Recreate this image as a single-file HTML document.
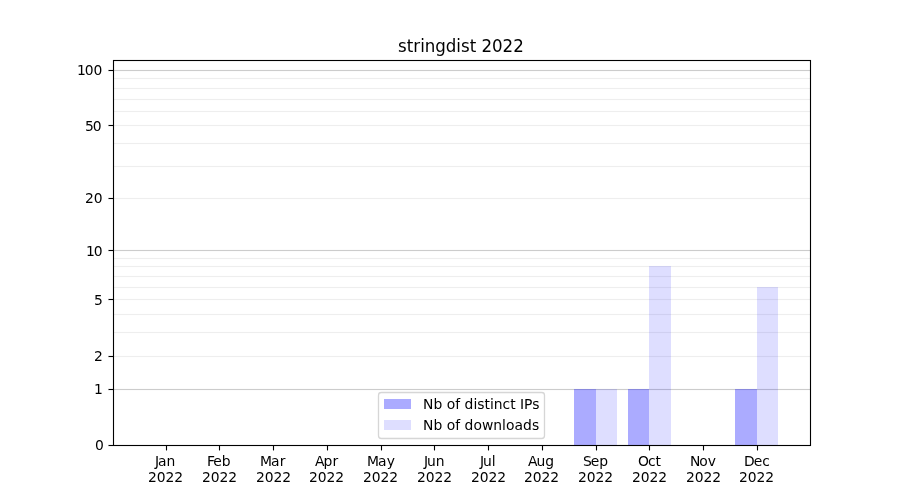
<!DOCTYPE html>
<html lang="en"><head><meta charset="utf-8"><title>stringdist 2022</title>
<style>html,body{margin:0;padding:0;background:#fff;}body{width:900px;height:500px;overflow:hidden;}svg{display:block;}text{font-family:"DejaVu Sans","Liberation Sans",sans-serif;fill:#000;}</style>
</head><body>
<svg width="900" height="500" viewBox="0 0 900 500">
<rect width="900" height="500" fill="#fff"/>
<g shape-rendering="crispEdges">
<rect x="113" y="355" width="697" height="3" fill="#fefefe"/><rect x="113" y="356" width="697" height="1" fill="#eeeeee"/>
<rect x="113" y="331" width="697" height="3" fill="#fefefe"/><rect x="113" y="332" width="697" height="1" fill="#eeeeee"/>
<rect x="113" y="313" width="697" height="3" fill="#fefefe"/><rect x="113" y="314" width="697" height="1" fill="#eeeeee"/>
<rect x="113" y="298" width="697" height="3" fill="#fefefe"/><rect x="113" y="299" width="697" height="1" fill="#eeeeee"/>
<rect x="113" y="286" width="697" height="3" fill="#fefefe"/><rect x="113" y="287" width="697" height="1" fill="#eeeeee"/>
<rect x="113" y="275" width="697" height="3" fill="#fefefe"/><rect x="113" y="276" width="697" height="1" fill="#eeeeee"/>
<rect x="113" y="265" width="697" height="3" fill="#fefefe"/><rect x="113" y="266" width="697" height="1" fill="#eeeeee"/>
<rect x="113" y="257" width="697" height="3" fill="#fefefe"/><rect x="113" y="258" width="697" height="1" fill="#eeeeee"/>
<rect x="113" y="197" width="697" height="3" fill="#fefefe"/><rect x="113" y="198" width="697" height="1" fill="#eeeeee"/>
<rect x="113" y="165" width="697" height="3" fill="#fefefe"/><rect x="113" y="166" width="697" height="1" fill="#eeeeee"/>
<rect x="113" y="142" width="697" height="3" fill="#fefefe"/><rect x="113" y="143" width="697" height="1" fill="#eeeeee"/>
<rect x="113" y="124" width="697" height="3" fill="#fefefe"/><rect x="113" y="125" width="697" height="1" fill="#eeeeee"/>
<rect x="113" y="110" width="697" height="3" fill="#fefefe"/><rect x="113" y="111" width="697" height="1" fill="#eeeeee"/>
<rect x="113" y="98" width="697" height="3" fill="#fefefe"/><rect x="113" y="99" width="697" height="1" fill="#eeeeee"/>
<rect x="113" y="87" width="697" height="3" fill="#fefefe"/><rect x="113" y="88" width="697" height="1" fill="#eeeeee"/>
<rect x="113" y="77" width="697" height="3" fill="#fefefe"/><rect x="113" y="78" width="697" height="1" fill="#eeeeee"/>
<rect x="113" y="388" width="697" height="3" fill="#fcfcfc"/><rect x="113" y="389" width="697" height="1" fill="#cccccc"/>
<rect x="113" y="249" width="697" height="3" fill="#fcfcfc"/><rect x="113" y="250" width="697" height="1" fill="#cccccc"/>
<rect x="113" y="69" width="697" height="3" fill="#fcfcfc"/><rect x="113" y="70" width="697" height="1" fill="#cccccc"/>
<rect x="574" y="389" width="22" height="56" fill="#0000ff" fill-opacity="0.33"/>
<rect x="596" y="389" width="21" height="56" fill="#0000ff" fill-opacity="0.13"/>
<rect x="628" y="389" width="21" height="56" fill="#0000ff" fill-opacity="0.33"/>
<rect x="649" y="266" width="22" height="179" fill="#0000ff" fill-opacity="0.13"/>
<rect x="735" y="389" width="22" height="56" fill="#0000ff" fill-opacity="0.33"/>
<rect x="757" y="287" width="21" height="158" fill="#0000ff" fill-opacity="0.13"/>
<rect x="108" y="444" width="5" height="3" fill="#000" fill-opacity="0.055"/><rect x="108" y="445" width="1" height="1" fill="#000" fill-opacity="0.47"/><rect x="109" y="445" width="4" height="1" fill="#000"/>
<rect x="108" y="388" width="5" height="3" fill="#000" fill-opacity="0.055"/><rect x="108" y="389" width="1" height="1" fill="#000" fill-opacity="0.47"/><rect x="109" y="389" width="4" height="1" fill="#000"/>
<rect x="108" y="355" width="5" height="3" fill="#000" fill-opacity="0.055"/><rect x="108" y="356" width="1" height="1" fill="#000" fill-opacity="0.47"/><rect x="109" y="356" width="4" height="1" fill="#000"/>
<rect x="108" y="298" width="5" height="3" fill="#000" fill-opacity="0.055"/><rect x="108" y="299" width="1" height="1" fill="#000" fill-opacity="0.47"/><rect x="109" y="299" width="4" height="1" fill="#000"/>
<rect x="108" y="249" width="5" height="3" fill="#000" fill-opacity="0.055"/><rect x="108" y="250" width="1" height="1" fill="#000" fill-opacity="0.47"/><rect x="109" y="250" width="4" height="1" fill="#000"/>
<rect x="108" y="197" width="5" height="3" fill="#000" fill-opacity="0.055"/><rect x="108" y="198" width="1" height="1" fill="#000" fill-opacity="0.47"/><rect x="109" y="198" width="4" height="1" fill="#000"/>
<rect x="108" y="124" width="5" height="3" fill="#000" fill-opacity="0.055"/><rect x="108" y="125" width="1" height="1" fill="#000" fill-opacity="0.47"/><rect x="109" y="125" width="4" height="1" fill="#000"/>
<rect x="108" y="69" width="5" height="3" fill="#000" fill-opacity="0.055"/><rect x="108" y="70" width="1" height="1" fill="#000" fill-opacity="0.47"/><rect x="109" y="70" width="4" height="1" fill="#000"/>
<rect x="165" y="446" width="3" height="4" fill="#000" fill-opacity="0.055"/><rect x="166" y="446" width="1" height="4" fill="#000"/><rect x="166" y="450" width="1" height="1" fill="#000" fill-opacity="0.45"/>
<rect x="218" y="446" width="3" height="4" fill="#000" fill-opacity="0.055"/><rect x="219" y="446" width="1" height="4" fill="#000"/><rect x="219" y="450" width="1" height="1" fill="#000" fill-opacity="0.45"/>
<rect x="272" y="446" width="3" height="4" fill="#000" fill-opacity="0.055"/><rect x="273" y="446" width="1" height="4" fill="#000"/><rect x="273" y="450" width="1" height="1" fill="#000" fill-opacity="0.45"/>
<rect x="326" y="446" width="3" height="4" fill="#000" fill-opacity="0.055"/><rect x="327" y="446" width="1" height="4" fill="#000"/><rect x="327" y="450" width="1" height="1" fill="#000" fill-opacity="0.45"/>
<rect x="380" y="446" width="3" height="4" fill="#000" fill-opacity="0.055"/><rect x="381" y="446" width="1" height="4" fill="#000"/><rect x="381" y="450" width="1" height="1" fill="#000" fill-opacity="0.45"/>
<rect x="433" y="446" width="3" height="4" fill="#000" fill-opacity="0.055"/><rect x="434" y="446" width="1" height="4" fill="#000"/><rect x="434" y="450" width="1" height="1" fill="#000" fill-opacity="0.45"/>
<rect x="487" y="446" width="3" height="4" fill="#000" fill-opacity="0.055"/><rect x="488" y="446" width="1" height="4" fill="#000"/><rect x="488" y="450" width="1" height="1" fill="#000" fill-opacity="0.45"/>
<rect x="541" y="446" width="3" height="4" fill="#000" fill-opacity="0.055"/><rect x="542" y="446" width="1" height="4" fill="#000"/><rect x="542" y="450" width="1" height="1" fill="#000" fill-opacity="0.45"/>
<rect x="595" y="446" width="3" height="4" fill="#000" fill-opacity="0.055"/><rect x="596" y="446" width="1" height="4" fill="#000"/><rect x="596" y="450" width="1" height="1" fill="#000" fill-opacity="0.45"/>
<rect x="648" y="446" width="3" height="4" fill="#000" fill-opacity="0.055"/><rect x="649" y="446" width="1" height="4" fill="#000"/><rect x="649" y="450" width="1" height="1" fill="#000" fill-opacity="0.45"/>
<rect x="702" y="446" width="3" height="4" fill="#000" fill-opacity="0.055"/><rect x="703" y="446" width="1" height="4" fill="#000"/><rect x="703" y="450" width="1" height="1" fill="#000" fill-opacity="0.45"/>
<rect x="756" y="446" width="3" height="4" fill="#000" fill-opacity="0.055"/><rect x="757" y="446" width="1" height="4" fill="#000"/><rect x="757" y="450" width="1" height="1" fill="#000" fill-opacity="0.45"/>
<rect x="113" y="59" width="698" height="3" fill="#000" fill-opacity="0.055"/>
<rect x="113" y="444" width="698" height="3" fill="#000" fill-opacity="0.055"/>
<rect x="112" y="60" width="3" height="386" fill="#000" fill-opacity="0.055"/>
<rect x="809" y="60" width="3" height="386" fill="#000" fill-opacity="0.055"/>
<rect x="113" y="60" width="698" height="1" fill="#000"/>
<rect x="113" y="445" width="698" height="1" fill="#000"/>
<rect x="113" y="60" width="1" height="386" fill="#000"/>
<rect x="810" y="60" width="1" height="386" fill="#000"/>
</g>
<text x="154.88 157.88 166.50" y="466.00" font-size="13.889">Jan</text>
<text x="147.88 156.63 165.38 174.13" y="482.00" font-size="13.889">2022</text>
<text x="206.89 213.14 221.64" y="466.00" font-size="13.889">Feb</text>
<text x="201.91 210.66 219.41 228.16" y="482.00" font-size="13.889">2022</text>
<text x="260.04 271.04 279.66" y="466.00" font-size="13.889">Mar</text>
<text x="255.90 264.65 273.40 282.15" y="482.00" font-size="13.889">2022</text>
<text x="315.02 323.52 332.40" y="466.00" font-size="13.889">Apr</text>
<text x="308.90 317.65 326.40 335.15" y="482.00" font-size="13.889">2022</text>
<text x="367.05 378.05 386.67" y="466.00" font-size="13.889">May</text>
<text x="362.89 371.64 380.39 389.14" y="482.00" font-size="13.889">2022</text>
<text x="423.90 426.90 435.65" y="466.00" font-size="13.889">Jun</text>
<text x="416.91 425.66 434.41 443.16" y="482.00" font-size="13.889">2022</text>
<text x="479.92 482.92 491.67" y="466.00" font-size="13.889">Jul</text>
<text x="470.91 479.66 488.41 497.16" y="482.00" font-size="13.889">2022</text>
<text x="527.88 536.38 545.13" y="466.00" font-size="13.889">Aug</text>
<text x="523.90 532.65 541.40 550.15" y="482.00" font-size="13.889">2022</text>
<text x="582.88 590.63 599.13" y="466.00" font-size="13.889">Sep</text>
<text x="577.89 586.64 595.39 604.14" y="482.00" font-size="13.889">2022</text>
<text x="638.00 647.88 655.50" y="466.00" font-size="13.889">Oct</text>
<text x="631.92 640.67 649.42 658.17" y="482.00" font-size="13.889">2022</text>
<text x="689.91 699.29 707.79" y="466.00" font-size="13.889">Nov</text>
<text x="685.91 694.66 703.41 712.16" y="482.00" font-size="13.889">2022</text>
<text x="743.89 753.64 762.14" y="466.00" font-size="13.889">Dec</text>
<text x="738.91 747.66 756.41 765.16" y="482.00" font-size="13.889">2022</text>
<text x="94.90" y="450.00" font-size="13.889">0</text>
<text x="93.91" y="394.00" font-size="13.889">1</text>
<text x="93.88" y="361.00" font-size="13.889">2</text>
<text x="93.92" y="305.00" font-size="13.889">5</text>
<text x="85.89 93.77" y="256.00" font-size="13.889">10</text>
<text x="84.91 93.66" y="203.00" font-size="13.889">20</text>
<text x="84.91 92.66" y="131.00" font-size="13.889">50</text>
<text x="76.91 84.78 93.53" y="75.00" font-size="13.889">100</text>
<text transform="translate(398.03 52.00) scale(1 1.097)" x="0.00 8.75 15.25 22.12 26.75 37.25 47.75 58.25 62.88 71.62 78.12 83.38 94.00 104.50 115.12" y="0" font-size="16.667">stringdist 2022</text>
<rect x="378.5" y="392.5" width="166" height="46" rx="2.8" ry="2.8" fill="#fff" stroke="#cccccc" stroke-width="1.3" opacity="0.8"/>
<rect x="384" y="399" width="27" height="10" fill="#0000ff" fill-opacity="0.33" shape-rendering="crispEdges"/>
<rect x="384" y="420" width="27" height="10" fill="#0000ff" fill-opacity="0.13" shape-rendering="crispEdges"/>
<text x="423.02 433.39 442.27 446.64 455.14 460.14 464.52 473.39 477.27 484.39 489.89 493.77 502.52 510.14 515.64 520.02 524.02 532.14" y="409.00" font-size="13.889">Nb of distinct IPs</text>
<text x="423.04 433.42 442.29 446.67 455.17 460.17 464.54 473.42 481.92 493.29 502.04 505.92 514.41 523.04 531.91" y="430.00" font-size="13.889">Nb of downloads</text>
</svg>
</body></html>
